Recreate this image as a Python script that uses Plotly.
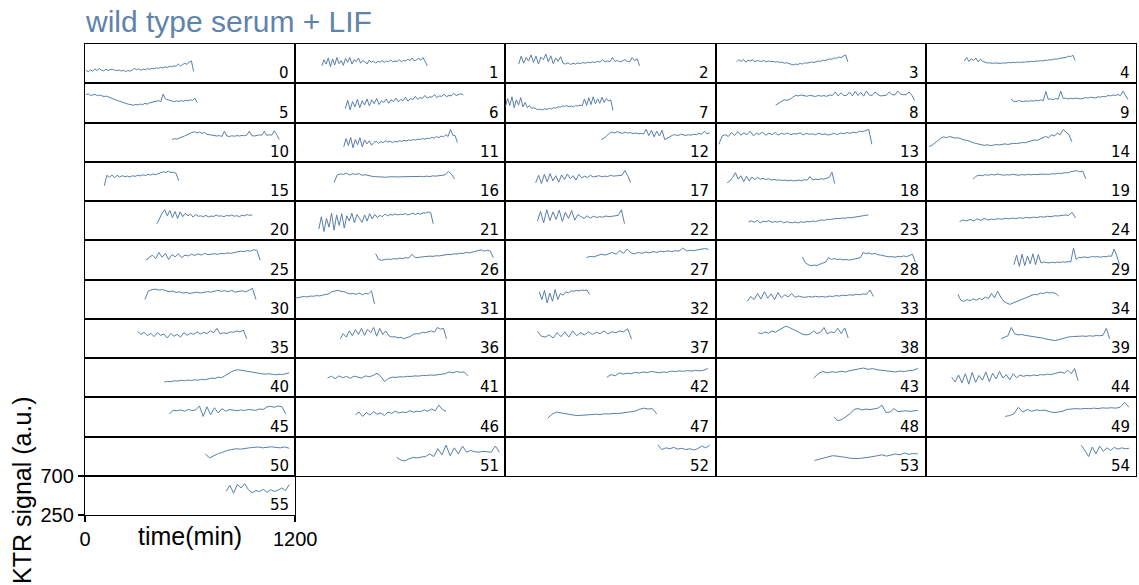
import numpy as np
import plotly.graph_objects as go

# Per-cell KTR traces: first and last frame time (min) and the sampled signal (a.u.)
START = [6, 152, 76, 120, 220, 6, 286, 0, 343, 486,
         497, 277, 547, 19, 19, 110, 222, 173, 66, 270,
         411, 135, 183, 188, 193, 347, 459, 463, 496, 503,
         342, 0, 193, 181, 183, 300, 257, 183, 243, 430,
         453, 185, 580, 560, 148, 482, 344, 241, 676, 453,
         686, 580, 870, 565, 888, 806]
END = [620, 754, 766, 755, 853, 640, 960, 614, 1137, 1154,
       1109, 926, 1166, 892, 834, 535, 909, 715, 680, 913,
       955, 788, 680, 872, 855, 1000, 1131, 1160, 1140, 1106,
       976, 453, 481, 901, 759, 923, 864, 720, 757, 1050,
       1166, 987, 1155, 1155, 869, 1146, 861, 864, 1155, 1160,
       1166, 1166, 1166, 1155, 1160, 1166]

S0 = [400, 380, 405, 388, 415, 395, 420, 400, 392, 410, 398, 405, 412, 400, 395, 402, 390, 398, 385, 395, 390, 400, 420, 405, 415, 398, 412, 405, 418, 410, 422, 415, 428, 420, 432, 425, 440, 430, 445, 438, 450, 445, 470, 448, 462, 480, 465, 495, 505, 385]
S1 = [450, 520, 470, 540, 440, 530, 460, 545, 475, 510, 455, 535, 490, 545, 470, 520, 500, 540, 480, 510, 495, 470, 515, 490, 505, 480, 500, 492, 510, 488, 505, 498, 515, 495, 505, 500, 520, 498, 510, 505, 525, 510, 540, 505, 520, 535, 515, 545, 500, 450]
S2 = [470, 560, 480, 545, 505, 575, 490, 560, 470, 550, 520, 585, 495, 565, 475, 540, 500, 555, 480, 470, 485, 465, 478, 470, 482, 475, 488, 480, 490, 485, 495, 488, 500, 492, 520, 495, 505, 498, 545, 500, 510, 495, 505, 520, 500, 495, 545, 510, 530, 450]
S3 = [495, 520, 500, 525, 490, 515, 505, 520, 498, 510, 505, 500, 512, 495, 505, 498, 502, 492, 498, 488, 492, 480, 485, 472, 468, 460, 470, 465, 478, 470, 485, 480, 490, 495, 488, 500, 505, 498, 515, 510, 520, 530, 525, 540, 535, 550, 545, 560, 575, 495]
S4 = [505, 545, 500, 530, 510, 540, 495, 525, 500, 488, 482, 485, 478, 482, 480, 486, 478, 484, 480, 488, 484, 490, 486, 492, 488, 494, 490, 498, 495, 502, 498, 505, 502, 510, 505, 515, 512, 520, 518, 528, 525, 535, 540, 548, 545, 560, 555, 570, 510]
S5 = [570, 578, 560, 568, 572, 558, 565, 555, 548, 552, 540, 530, 520, 512, 500, 492, 480, 472, 465, 458, 455, 448, 458, 450, 462, 455, 470, 460, 475, 480, 488, 495, 500, 490, 575, 520, 510, 500, 495, 488, 498, 492, 500, 495, 505, 498, 510, 502, 530, 480]
S6 = [410, 505, 395, 490, 430, 515, 420, 500, 450, 520, 440, 510, 465, 525, 455, 500, 480, 520, 470, 510, 490, 530, 485, 515, 500, 540, 495, 525, 510, 550, 515, 535, 525, 560, 530, 545, 540, 570, 535, 555, 550, 575, 545, 560, 555, 585, 560, 570, 580, 565]
S7 = [430, 525, 445, 545, 420, 510, 450, 535, 430, 480, 420, 445, 410, 420, 405, 398, 402, 395, 408, 400, 412, 405, 420, 415, 430, 425, 440, 435, 445, 430, 440, 428, 445, 438, 450, 440, 520, 445, 535, 455, 545, 465, 520, 470, 540, 480, 525, 495, 510, 390]
S8 = [450, 470, 500, 510, 505, 515, 540, 560, 555, 565, 558, 550, 562, 555, 548, 560, 552, 558, 550, 565, 560, 600, 555, 590, 558, 562, 600, 555, 605, 560, 595, 552, 610, 565, 560, 600, 570, 555, 560, 562, 600, 570, 565, 610, 575, 568, 570, 600, 560, 500]
S9 = [520, 495, 490, 500, 495, 490, 498, 492, 500, 495, 505, 498, 510, 500, 605, 515, 520, 512, 525, 518, 610, 525, 530, 520, 528, 522, 530, 525, 520, 528, 535, 530, 540, 535, 532, 545, 540, 550, 545, 560, 555, 565, 560, 570, 560, 610, 565, 515]
S10 = [505, 515, 510, 525, 535, 545, 560, 570, 585, 595, 580, 590, 575, 585, 565, 560, 555, 550, 545, 550, 540, 600, 545, 540, 548, 542, 550, 545, 552, 548, 555, 600, 550, 545, 552, 558, 555, 600, 552, 560, 555, 605, 560, 505]
S11 = [420, 515, 435, 530, 410, 505, 445, 525, 420, 500, 455, 490, 440, 470, 485, 460, 480, 470, 490, 475, 485, 470, 482, 478, 490, 485, 495, 488, 500, 495, 505, 498, 510, 505, 515, 508, 520, 515, 530, 520, 540, 525, 545, 535, 560, 540, 620, 555, 550, 470]
S12 = [505, 520, 545, 575, 590, 580, 595, 585, 575, 590, 578, 585, 572, 580, 570, 575, 568, 620, 550, 610, 535, 600, 545, 610, 505, 520, 540, 555, 560, 550, 565, 558, 552, 560, 555, 565, 560, 575, 565, 600, 570, 580]
S13 = [450, 545, 560, 540, 585, 550, 595, 555, 580, 560, 600, 548, 575, 565, 590, 552, 578, 560, 585, 555, 575, 565, 580, 560, 572, 568, 582, 558, 575, 565, 570, 560, 578, 562, 570, 556, 565, 575, 560, 580, 570, 585, 575, 590, 580, 600, 595, 610, 620, 450]
S14 = [425, 440, 465, 495, 520, 535, 525, 540, 530, 520, 525, 510, 500, 495, 480, 470, 460, 450, 445, 438, 445, 435, 440, 448, 442, 450, 455, 448, 458, 462, 458, 465, 470, 468, 478, 485, 500, 495, 510, 520, 540, 525, 560, 545, 580, 560, 620, 590, 560, 480]
S15 = [425, 545, 520, 550, 515, 545, 525, 540, 530, 535, 525, 540, 532, 545, 538, 550, 542, 555, 548, 560, 552, 565, 575, 585, 578, 590, 575, 580, 565, 482]
S16 = [460, 550, 560, 555, 568, 548, 562, 555, 565, 545, 552, 540, 535, 530, 528, 525, 530, 522, 528, 525, 530, 526, 528, 530, 526, 532, 528, 530, 532, 528, 535, 530, 538, 535, 540, 545, 550, 590, 560, 505]
S17 = [460, 545, 450, 555, 470, 565, 480, 540, 465, 550, 495, 560, 505, 540, 490, 555, 515, 535, 520, 545, 525, 530, 540, 528, 535, 530, 545, 535, 540, 538, 545, 600, 540, 460]
S18 = [460, 480, 520, 575, 500, 540, 470, 535, 480, 525, 495, 520, 500, 510, 495, 505, 490, 498, 488, 492, 485, 490, 482, 488, 480, 485, 490, 482, 495, 488, 530, 490, 500, 495, 505, 500, 512, 520, 580, 450]
S19 = [500, 535, 545, 540, 552, 545, 555, 548, 560, 550, 545, 552, 548, 556, 550, 545, 553, 548, 556, 550, 555, 552, 558, 555, 560, 556, 562, 560, 568, 565, 575, 572, 585, 590, 598, 585, 592, 505]
S20 = [440, 510, 560, 600, 530, 590, 510, 580, 500, 575, 520, 560, 530, 550, 515, 545, 525, 530, 520, 535, 518, 528, 522, 540, 525, 530, 520, 535, 528, 540, 525, 532, 520, 538, 530, 545, 535, 540]
S21 = [380, 520, 350, 500, 400, 560, 365, 540, 420, 555, 390, 530, 470, 560, 450, 545, 500, 455, 540, 470, 555, 495, 545, 510, 535, 520, 550, 530, 545, 538, 552, 540, 548, 545, 555, 540, 550, 558, 545, 560, 550, 565, 560, 575, 565, 440]
S22 = [470, 580, 450, 600, 475, 575, 490, 595, 465, 570, 500, 590, 480, 545, 520, 500, 530, 505, 525, 512, 520, 515, 528, 520, 525, 530, 535, 600, 440]
S23 = [460, 472, 455, 478, 450, 468, 462, 475, 455, 465, 458, 470, 450, 462, 455, 450, 458, 448, 462, 455, 465, 460, 470, 465, 475, 482, 478, 490, 488, 495, 500, 498, 505, 502, 510, 508, 515, 520, 525, 530, 535, 540]
S24 = [465, 482, 472, 490, 470, 495, 478, 500, 482, 492, 488, 498, 490, 502, 495, 505, 498, 508, 502, 512, 505, 515, 510, 520, 515, 525, 520, 530, 528, 535, 540, 535, 570, 505]
S25 = [470, 500, 530, 490, 560, 505, 548, 480, 535, 510, 545, 500, 530, 520, 540, 525, 545, 530, 550, 535, 540, 545, 538, 550, 545, 555, 550, 560, 565, 575, 570, 580, 575, 590, 585, 470]
S26 = [545, 480, 470, 478, 485, 480, 490, 485, 495, 490, 500, 495, 540, 505, 500, 508, 512, 510, 518, 515, 522, 520, 528, 530, 538, 535, 545, 542, 552, 548, 560, 555, 565, 570, 580, 590, 575, 585, 575, 500]
S27 = [500, 515, 510, 525, 540, 530, 545, 560, 540, 580, 550, 600, 555, 545, 560, 550, 565, 555, 570, 560, 575, 568, 578, 570, 580, 575, 610, 578, 585, 580, 590, 595, 605, 595]
S28 = [505, 440, 420, 408, 415, 410, 425, 435, 450, 500, 480, 490, 478, 485, 475, 480, 472, 478, 485, 490, 500, 560, 545, 555, 540, 550, 535, 530, 520, 515, 510, 512, 505, 515, 510, 520, 512, 525, 540, 450]
S29 = [420, 530, 400, 540, 410, 520, 430, 545, 420, 535, 440, 450, 445, 440, 448, 442, 450, 445, 452, 448, 455, 450, 610, 480, 505, 500, 510, 502, 505, 515, 508, 512, 505, 515, 510, 520, 515, 600, 520, 420]
S30 = [470, 570, 582, 590, 578, 585, 572, 560, 568, 552, 558, 545, 552, 540, 548, 555, 545, 550, 560, 555, 568, 575, 565, 572, 560, 575, 555, 565, 570, 560, 575, 600, 470]
S31 = [485, 495, 500, 505, 500, 510, 508, 515, 512, 520, 525, 535, 560, 570, 575, 565, 560, 545, 535, 540, 530, 545, 525, 540, 535, 570, 420]
S32 = [560, 470, 575, 430, 545, 450, 585, 470, 540, 520, 560, 545, 570, 565, 575, 568, 580, 575, 580, 530]
S33 = [450, 505, 470, 540, 475, 560, 485, 535, 470, 550, 490, 525, 500, 540, 495, 510, 500, 495, 505, 498, 508, 500, 505, 498, 510, 505, 515, 510, 520, 515, 525, 520, 530, 525, 535, 530, 580, 505]
S34 = [530, 460, 450, 470, 455, 478, 462, 482, 470, 500, 480, 540, 490, 565, 500, 450, 430, 415, 430, 445, 460, 475, 490, 505, 515, 530, 525, 545, 540, 555, 545, 550, 540, 510]
S35 = [555, 520, 545, 505, 535, 495, 540, 510, 525, 480, 530, 500, 520, 490, 540, 510, 535, 520, 550, 525, 545, 530, 560, 540, 590, 525, 540, 530, 550, 545, 560, 550, 570, 470]
S36 = [470, 530, 490, 560, 505, 575, 520, 590, 510, 580, 540, 600, 500, 590, 520, 560, 505, 490, 495, 480, 488, 470, 485, 495, 520, 530, 525, 545, 540, 550, 560, 545, 600, 580, 590, 470]
S37 = [555, 500, 490, 515, 480, 540, 495, 550, 490, 560, 505, 540, 515, 550, 520, 545, 530, 560, 525, 550, 540, 560, 550, 585, 470]
S38 = [540, 528, 548, 535, 560, 545, 570, 590, 615, 600, 580, 560, 540, 520, 515, 525, 560, 530, 545, 600, 525, 550, 540, 590, 530, 595, 480]
S39 = [470, 490, 505, 600, 525, 515, 520, 510, 505, 500, 495, 488, 480, 470, 460, 455, 450, 462, 470, 485, 492, 495, 500, 498, 502, 498, 505, 500, 508, 505, 510, 590, 470]
S40 = [425, 432, 428, 440, 435, 445, 438, 448, 442, 450, 446, 455, 450, 460, 470, 465, 480, 475, 500, 520, 545, 560, 565, 558, 550, 545, 535, 530, 522, 518, 515, 520, 512, 508, 515, 510, 520, 530]
S41 = [470, 492, 462, 495, 475, 488, 468, 492, 480, 470, 495, 485, 500, 525, 490, 430, 465, 480, 478, 485, 482, 490, 488, 495, 492, 500, 498, 505, 502, 510, 515, 520, 540, 530, 545, 535, 540, 495]
S42 = [480, 510, 495, 530, 515, 525, 520, 535, 528, 540, 532, 545, 538, 530, 540, 535, 550, 545, 552, 548, 555, 550, 558, 552, 560, 580]
S43 = [470, 520, 545, 530, 542, 535, 548, 540, 555, 565, 575, 585, 570, 578, 565, 560, 555, 548, 540, 550, 545, 555, 560, 580]
S44 = [480, 425, 505, 415, 520, 400, 535, 420, 500, 445, 540, 430, 525, 460, 545, 470, 510, 450, 520, 475, 505, 490, 500, 495, 505, 498, 510, 505, 515, 510, 520, 530, 540, 525, 560, 520, 580, 440]
S45 = [510, 550, 545, 555, 540, 560, 548, 555, 600, 480, 590, 500, 580, 520, 570, 540, 560, 550, 545, 555, 548, 560, 555, 550, 565, 560, 590, 595, 585, 600, 590, 510]
S46 = [500, 530, 480, 525, 495, 535, 505, 520, 490, 530, 515, 540, 520, 530, 525, 545, 530, 540, 535, 555, 540, 565, 545, 610, 560, 540]
S47 = [460, 505, 530, 520, 515, 505, 495, 490, 495, 500, 498, 505, 502, 510, 508, 515, 512, 520, 525, 530, 540, 560, 575, 565, 570, 510]
S48 = [470, 430, 445, 480, 510, 560, 570, 555, 565, 558, 570, 575, 610, 525, 530, 570, 535, 540, 545, 538, 545, 550]
S49 = [480, 490, 510, 585, 530, 560, 540, 555, 548, 552, 535, 525, 530, 540, 560, 565, 570, 565, 572, 568, 575, 570, 578, 575, 580, 575, 585, 640, 585]
S50 = [500, 455, 480, 505, 520, 540, 550, 560, 555, 565, 570, 575, 580, 570, 575, 582, 575, 570, 580, 565]
S51 = [460, 430, 420, 445, 460, 455, 465, 470, 500, 470, 560, 490, 600, 480, 570, 500, 590, 520, 540, 525, 520, 530, 525, 520, 590, 520]
S52 = [605, 550, 570, 560, 575, 555, 565, 550, 560, 545, 560, 590, 570, 600]
S53 = [425, 440, 450, 465, 480, 475, 470, 460, 450, 445, 448, 455, 460, 470, 480, 490, 475, 485, 500, 490, 510, 495, 505, 500]
S54 = [600, 540, 470, 580, 500, 590, 530, 570, 540, 575, 555, 570, 560, 565]
S55 = [520, 590, 500, 600, 560, 610, 540, 505, 530, 520, 545, 510, 540, 520, 535, 560, 530, 600]

SIGNALS = [S0, S1, S2, S3, S4, S5, S6, S7, S8, S9, S10, S11, S12, S13, S14,
           S15, S16, S17, S18, S19, S20, S21, S22, S23, S24, S25, S26, S27,
           S28, S29, S30, S31, S32, S33, S34, S35, S36, S37, S38, S39, S40,
           S41, S42, S43, S44, S45, S46, S47, S48, S49, S50, S51, S52, S53,
           S54, S55]

T_RANGE = [0, 1200]
Y_RANGE = [250, 700]
X_TICKS = [0, 1200]
Y_TICKS = [250, 700]

W, H = 1139, 585
NCOL = 5
LEFT, TOP = 85.0, 44.0
CELL_W, CELL_H = 210.2, 39.25
LINE = "#5a7fa8"
FONT = "Liberation Sans, Arial"

fig = go.Figure()
layout = dict(
    width=W, height=H,
    margin=dict(l=0, r=0, t=0, b=0, autoexpand=False),
    paper_bgcolor="white", plot_bgcolor="white",
    showlegend=False,
)
annotations = []

last = len(SIGNALS) - 1
for i, sig in enumerate(SIGNALS):
    r, c = divmod(i, NCOL)
    x0 = (LEFT + c * CELL_W) / W
    x1 = (LEFT + (c + 1) * CELL_W) / W
    y1 = 1 - (TOP + r * CELL_H) / H
    y0 = 1 - (TOP + (r + 1) * CELL_H) / H
    suffix = "" if i == 0 else str(i + 1)
    t = np.linspace(START[i], END[i], len(sig))
    fig.add_trace(go.Scatter(
        x=t, y=sig, mode="lines",
        line=dict(color=LINE, width=1),
        xaxis="x" + suffix, yaxis="y" + suffix,
        hoverinfo="skip",
    ))
    is_last = i == last
    common = dict(
        showline=True, mirror=True, linecolor="black", linewidth=1.3,
        showgrid=False, zeroline=False, automargin=False,
        showticklabels=is_last,
        ticks="outside" if is_last else "",
        ticklen=6, tickwidth=1.5, tickcolor="black",
        tickfont=dict(family=FONT, size=20, color="black"),
    )
    layout["xaxis" + suffix] = dict(
        domain=[x0, x1], range=T_RANGE, anchor="y" + suffix,
        tickvals=X_TICKS if is_last else [], **common)
    layout["yaxis" + suffix] = dict(
        domain=[y0, y1], range=Y_RANGE, anchor="x" + suffix,
        tickvals=Y_TICKS if is_last else [], **common)
    # cell index in the lower-right corner
    annotations.append(dict(
        text=str(i), xref="paper", yref="paper",
        x=x1 - 4.5 / W, y=y0 - 1.0 / H,
        xanchor="right", yanchor="bottom", showarrow=False,
        font=dict(family="DejaVu Sans", size=15, color="black"),
    ))

annotations += [
    dict(text="wild type serum + LIF", xref="paper", yref="paper",
         x=LEFT / W - 0.002, y=1 - 3 / H, xanchor="left", yanchor="top",
         showarrow=False,
         font=dict(family=FONT, size=30, color="#5f84ab")),
    dict(text="time(min)", xref="paper", yref="paper",
         x=190 / W, y=1 - 536 / H, xanchor="center", yanchor="middle",
         showarrow=False,
         font=dict(family=FONT, size=25, color="black")),
    dict(text="KTR signal (a.u.)", xref="paper", yref="paper",
         x=22 / W, y=1 - 490 / H, xanchor="center", yanchor="middle",
         textangle=-90, showarrow=False,
         font=dict(family=FONT, size=25, color="black")),
]
layout["annotations"] = annotations
fig.update_layout(**layout)
fig.write_html("out.html")
